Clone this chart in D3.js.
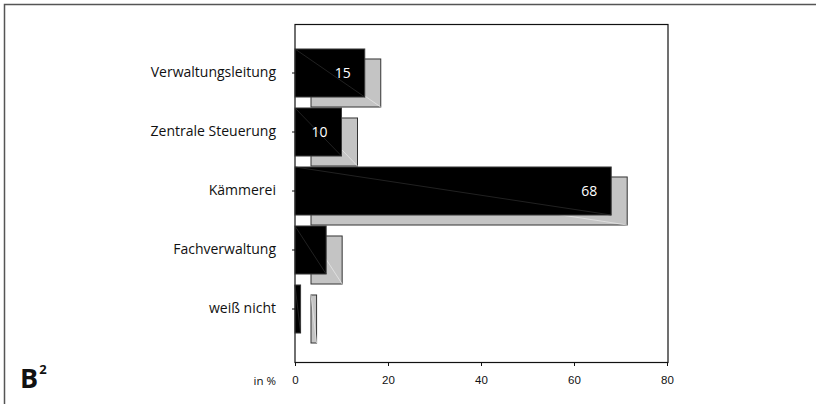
<!DOCTYPE html>
<html>
<head>
<meta charset="utf-8">
<script src="https://cdn.jsdelivr.net/npm/d3@7"></script>
<style>
  body { margin: 0; background: #fff; }
  text { font-family: "Open Sans", sans-serif; }
</style>
</head>
<body>
<div id="chart"></div>
<script>
// data
var categories = ["Verwaltungsleitung", "Zentrale Steuerung", "Kämmerei", "Fachverwaltung", "weiß nicht"];
var values = [15, 10, 68, 6.7, 1.2];
var valueLabels = ["15", "10", "68", "", ""];
var xTicks = [0, 20, 40, 60, 80];

var W = 816, H = 404;
// plot box
var box = {left: 295, right: 668, top: 24, bottom: 362};

var svg = d3.select("#chart").append("svg")
  .attr("width", W)
  .attr("height", H);

// outer frame
svg.append("rect")
  .attr("x", 4.5).attr("y", 4.5)
  .attr("width", W + 10).attr("height", H + 10)
  .attr("fill", "none")
  .attr("stroke", "#555")
  .attr("stroke-width", 1.5);

var x = d3.scaleLinear()
  .domain([0, 80])
  .range([box.left, 667]);

var y = d3.scaleBand()
  .domain(categories)
  .range([43.5, 338.5])
  .paddingInner(0.186)
  .paddingOuter(0.093);

// plot frame
svg.append("rect")
  .attr("x", box.left).attr("y", box.top + 0.5)
  .attr("width", box.right - box.left).attr("height", box.bottom - box.top)
  .attr("fill", "none")
  .attr("stroke", "#111")
  .attr("stroke-width", 1.2);

var rows = categories.map(function(c, i) {
  return {cat: c, value: values[i], label: valueLabels[i]};
});

var dx = 16, dy = 10;

// shadow bars
var sh = svg.append("g").selectAll("g").data(rows).enter().append("g");
sh.append("rect")
  .attr("x", function(d) { return x(0) + dx; })
  .attr("y", function(d) { return y(d.cat) + dy; })
  .attr("width", function(d) { return x(d.value) - x(0); })
  .attr("height", y.bandwidth())
  .attr("fill", "#c4c4c4")
  .attr("stroke", "#333")
  .attr("stroke-width", 1);
sh.append("line")
  .attr("x1", function(d) { return x(0) + dx; })
  .attr("y1", function(d) { return y(d.cat) + dy; })
  .attr("x2", function(d) { return x(d.value) + dx; })
  .attr("y2", function(d) { return y(d.cat) + dy + y.bandwidth(); })
  .attr("stroke", "#e6e6e6")
  .attr("stroke-width", 0.8);

// main bars
var mb = svg.append("g").selectAll("g").data(rows).enter().append("g");
mb.append("rect")
  .attr("x", x(0))
  .attr("y", function(d) { return y(d.cat); })
  .attr("width", function(d) { return x(d.value) - x(0); })
  .attr("height", y.bandwidth())
  .attr("fill", "#000")
  .attr("stroke", "#3a3a3a")
  .attr("stroke-width", 1);
mb.append("line")
  .attr("x1", x(0))
  .attr("y1", function(d) { return y(d.cat); })
  .attr("x2", function(d) { return x(d.value); })
  .attr("y2", function(d) { return y(d.cat) + y.bandwidth(); })
  .attr("stroke", "#2a2a2a")
  .attr("stroke-width", 0.8);
mb.append("text")
  .attr("x", function(d) { return x(d.value) - 14; })
  .attr("y", function(d) { return y(d.cat) + y.bandwidth() / 2; })
  .attr("dy", "0.35em")
  .attr("text-anchor", "end")
  .attr("fill", "#fff")
  .style("font-size", "14px")
  .text(function(d) { return d.label; });

// y axis
var yAxis = svg.append("g")
  .attr("transform", "translate(" + box.left + ",0)")
  .call(d3.axisLeft(y).tickSize(3).tickSizeOuter(0).tickPadding(16));
yAxis.select(".domain").remove();
yAxis.selectAll(".tick line").attr("stroke", "#111");
yAxis.selectAll(".tick text")
  .style("font-family", "'Open Sans', sans-serif")
  .style("font-size", "14px")
  .attr("fill", "#111");

// x axis
var xAxis = svg.append("g")
  .attr("transform", "translate(0," + box.bottom + ")")
  .call(d3.axisBottom(x).tickValues(xTicks).tickSize(4).tickSizeOuter(0).tickPadding(10));
xAxis.select(".domain").remove();
xAxis.selectAll(".tick line").attr("stroke", "#111");
xAxis.selectAll(".tick text")
  .style("font-family", "'Liberation Sans', Arial, sans-serif")
  .style("font-size", "11.5px")
  .attr("fill", "#111");

svg.append("text")
  .attr("x", 276).attr("y", 384.5)
  .attr("text-anchor", "end")
  .style("font-size", "11.5px")
  .attr("fill", "#111")
  .text("in %");

// panel label
var b = svg.append("text")
  .attr("x", 20).attr("y", 388)
  .style("font-size", "27px")
  .style("font-weight", "bold")
  .attr("fill", "#111");
b.append("tspan").text("B");
b.append("tspan")
  .attr("dy", -14)
  .attr("dx", 1)
  .style("font-size", "13px")
  .text("2");
</script>
</body>
</html>
